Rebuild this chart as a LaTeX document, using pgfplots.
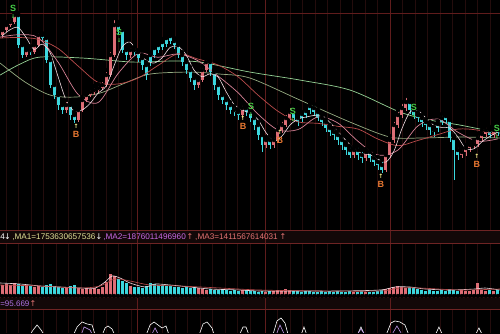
\documentclass[border=0pt]{standalone}
\usepackage{pgfplots}
\pgfplotsset{compat=1.18}
\usepackage{pgfplotstable}
\usepackage{fontspec}
\setmainfont{Liberation Sans}
\newfontfamily\arrowfont{DejaVu Sans}
\definecolor{upc}{RGB}{222,110,118}
\definecolor{dnc}{RGB}{60,215,222}
\definecolor{gridc}{RGB}{95,28,28}
\definecolor{faintc}{RGB}{36,12,12}
\definecolor{bandl}{RGB}{110,36,36}
\definecolor{bandf}{RGB}{18,8,8}
\definecolor{maw}{RGB}{240,220,226}
\definecolor{map}{RGB}{215,130,150}
\definecolor{mar}{RGB}{185,75,75}
\definecolor{lga}{RGB}{150,210,150}
\definecolor{lgb}{RGB}{150,172,130}
\definecolor{txty}{RGB}{225,225,150}
\definecolor{txtm}{RGB}{200,105,230}
\definecolor{txts}{RGB}{228,115,115}
\definecolor{txtp}{RGB}{175,115,230}
\definecolor{sgreen}{RGB}{70,205,70}
\definecolor{borange}{RGB}{232,120,50}
\definecolor{byellow}{RGB}{245,240,140}
\definecolor{lav}{RGB}{190,150,230}

\pgfplotstableread{
x o c h l v
2 35 30 27 38 11
6 30 25 22 32 12
10 25 22 18 27 11
14 22 15 12 24 13
18 15 45 13 48 12
22 45 55 42 58 10
26 55 50 47 57 11
30 50 52 46 55 10
34 52 45 42 54 9
38 45 35 31 47 10
42 35 38 33 42 9
46 38 60 36 63 11
50 60 85 58 88 12
54 85 95 82 99 10
58 95 105 92 110 9
62 105 110 102 114 8
66 110 105 100 113 9
70 105 115 103 120 10
74 115 120 112 123 11
78 120 110 107 122 8
82 110 100 97 112 7
86 100 95 92 102 8
90 95 92 88 97 7
94 92 90 86 95 8
98 90 88 84 93 7
102 88 85 80 90 9
106 85 75 70 87 14
110 75 55 50 77 22
114 55 25 18 57 20
118 25 30 22 34 17
122 30 50 28 53 15
126 50 55 47 60 13
130 55 50 46 58 10
134 50 52 47 56 9
138 52 58 50 62 9
142 58 65 55 70 8
146 65 75 62 80 10
150 55 62 52 66 13
154 48 55 45 58 12
158 45 50 42 53 11
162 42 47 39 50 11
166 38 44 35 47 10
170 36 41 34 44 10
174 41 45 38 49 9
178 45 55 43 58 9
182 55 62 52 66 8
186 62 70 60 74 9
190 70 78 67 82 8
194 78 85 75 90 9
198 85 80 77 88 8
202 80 70 66 82 7
206 70 62 58 72 6
210 62 72 60 76 7
214 72 85 70 90 6
218 85 95 82 100 6
222 95 100 92 104 7
226 100 105 97 110 6
230 105 110 102 114 5
234 110 112 106 116 6
238 112 115 109 120 5
242 115 108 104 118 6
246 108 112 105 116 6
250 112 118 110 122 5
254 118 125 115 130 5
258 125 135 122 140 4
262 135 145 132 152 5
266 145 140 137 148 4
270 140 145 136 149 5
274 145 140 136 148 5
278 140 130 127 143 6
282 130 125 120 133 6
286 125 118 113 127 7
290 118 112 106 120 6
294 112 118 110 122 5
298 118 122 115 126 5
302 114 118 112 122 4
306 111 115 108 118 5
310 106 110 103 114 5
314 108 112 104 116 4
318 112 118 109 121 4
322 118 122 115 126 5
326 122 128 119 132 4
330 128 132 125 136 5
334 132 135 128 140 4
338 135 140 131 145 5
342 140 145 136 150 4
346 145 150 142 155 4
350 150 155 146 158 5
354 155 150 147 158 4
358 150 155 146 160 4
362 155 158 150 163 5
366 158 152 149 161 4
370 152 158 149 162 4
374 158 162 154 166 4
378 162 165 157 170 5
382 165 170 160 173 6
386 170 155 152 172 7
390 155 140 136 158 8
394 140 125 120 143 9
398 125 115 110 128 10
402 115 108 102 118 9
406 108 102 96 111 8
410 102 110 100 114 9
414 110 115 107 119 8
418 115 118 112 122 7
422 118 122 115 127 6
426 122 125 119 130 5
430 125 130 122 135 6
434 130 132 127 137 5
438 124 128 121 132 5
442 118 122 114 125 6
446 116 120 113 124 5
450 120 138 118 142 7
454 138 150 136 180 6
458 150 155 146 160 5
462 155 152 148 158 6
466 152 148 145 156 5
470 148 145 142 152 5
474 145 144 140 149 6
478 144 138 134 147 13
482 138 134 130 141 6
486 134 130 126 137 5
490 130 135 127 138 6
494 135 130 126 138 5
498 130 132 127 136 6
}\candles

\begin{document}
\begin{tikzpicture}
\begin{axis}[
  scale only axis, width=500bp, height=333bp,
  xmin=0, xmax=500, ymin=0, ymax=333, y dir=reverse,
  xtick=\empty, ytick=\empty,
  axis line style={draw=black, line width=0.2pt},
  axis background/.style={fill=black},
]
% faint vertical texture
\addplot[ycomb, draw=faintc, line width=0.4bp, mark=none, forget plot] coordinates {
(6,333)(18,333)(31,333)(43,333)(56,333)(68,333)(81,333)(93,333)(106,333)(118,333)(131,333)(150,333)(162,333)(175,333)(187,333)(200,333)(212,333)(225,333)(237,333)(250,333)(277,333)(290,333)(302,333)(315,333)(327,333)(340,333)(352,333)(365,333)(377,333)(402,333)(415,333)(427,333)(440,333)(452,333)(465,333)(477,333)(490,333)};
% band backgrounds
\fill[bandf] (axis cs:0,230.5) rectangle (axis cs:500,243.5);
\fill[bandf] (axis cs:0,297.5) rectangle (axis cs:500,309.5);
% main grid lines
\addplot[draw=gridc, line width=0.6bp, forget plot] coordinates {(137,0)(137,333)};
\addplot[draw=gridc, line width=0.6bp, forget plot] coordinates {(265,0)(265,333)};
\addplot[draw=gridc, line width=0.6bp, forget plot] coordinates {(390,0)(390,333)};
\addplot[draw=gridc, line width=0.6bp, forget plot] coordinates {(0,13)(500,13)};
\addplot[draw=bandl, line width=0.7bp, forget plot] coordinates {(0,230.5)(500,230.5)};
\addplot[draw=bandl, line width=0.7bp, forget plot] coordinates {(0,243.5)(500,243.5)};
\addplot[draw=bandl, line width=0.7bp, forget plot] coordinates {(0,297.5)(500,297.5)};
\addplot[draw=bandl, line width=0.7bp, forget plot] coordinates {(0,309.5)(500,309.5)};

% long moving averages
\addplot[lga, line width=0.7bp, smooth, forget plot] coordinates {(0,75)(20,64)(40,57)(83,58)(133,62)(170,61)(200,62)(250,72)(300,80)(350,90)(400,112)(430,120)(460,125)(500,133)};
\addplot[lgb, line width=0.7bp, smooth, forget plot] coordinates {(0,63)(25,82)(50,95)(75,97)(100,93)(125,83)(150,74)(190,72)(220,74)(250,78)(300,100)(350,122)(390,137)(420,138)(460,137)(500,138)};

% candles: wicks and bodies (up = red, down = cyan; y is screen row)
\addplot[only marks, mark=none, forget plot, restrict expr to domain={\thisrow{o}-\thisrow{c}}{0.5:1000},
  error bars/.cd, y dir=both, y explicit, error mark=none, error bar style={upc, line width=0.6bp}]
  table[x=x, y expr=\thisrow{h}, y error plus expr=\thisrow{l}-\thisrow{h}, y error minus expr=0]{\candles};
\addplot[only marks, mark=none, forget plot, restrict expr to domain={\thisrow{o}-\thisrow{c}}{0.5:1000},
  error bars/.cd, y dir=both, y explicit, error mark=none, error bar style={upc, line width=3bp}]
  table[x=x, y expr={min(\thisrow{o},\thisrow{c})}, y error plus expr={max(abs(\thisrow{o}-\thisrow{c}),1)}, y error minus expr=0]{\candles};
\addplot[only marks, mark=none, forget plot, restrict expr to domain={\thisrow{o}-\thisrow{c}}{-1000:0},
  error bars/.cd, y dir=both, y explicit, error mark=none, error bar style={dnc, line width=0.6bp}]
  table[x=x, y expr=\thisrow{h}, y error plus expr=\thisrow{l}-\thisrow{h}, y error minus expr=0]{\candles};
\addplot[only marks, mark=none, forget plot, restrict expr to domain={\thisrow{o}-\thisrow{c}}{-1000:0},
  error bars/.cd, y dir=both, y explicit, error mark=none, error bar style={dnc, line width=3bp}]
  table[x=x, y expr={min(\thisrow{o},\thisrow{c})}, y error plus expr={max(abs(\thisrow{o}-\thisrow{c}),1)}, y error minus expr=0]{\candles};

% short moving averages
\addplot[mar, line width=0.7bp, smooth, forget plot] coordinates {(0,38)(18,37.4)(38,39.2)(58,48.4)(78,65.9)(98,82.3)(118,83.9)(138,78)(158,65.4)(178,53.7)(198,59)(218,64.9)(238,76.7)(258,95)(278,111.2)(298,121.8)(318,123.3)(338,126.3)(358,129)(378,139)(398,145.6)(418,140.4)(438,134.5)(458,129)(478,130.1)(498,135.5)};
\addplot[map, line width=0.7bp, smooth, forget plot] coordinates {(0,37)(18,34.7)(38,37.4)(58,62)(78,94.3)(98,102.5)(118,73.5)(138,53.5)(158,57.2)(178,53.9)(198,60.7)(218,75.9)(238,92.6)(258,114)(278,129.8)(298,129.5)(318,116.8)(338,123)(358,141.2)(378,155)(398,150)(418,125.8)(438,119)(458,132.2)(478,141.2)(498,138.8)};
\addplot[maw, line width=0.6bp, smooth, forget plot] coordinates {(2,35.8)(10,29.6)(18,27.4)(26,37.4)(34,49.4)(42,44)(50,52.6)(58,76.6)(66,100)(74,111)(82,110)(90,103.4)(98,93)(106,86)(114,65.6)(122,47)(130,42)(138,53)(146,60)(154,63)(162,57.8)(170,47.4)(178,46.4)(186,54.6)(194,70)(202,76.6)(210,73.8)(218,76.8)(226,91.4)(234,104.4)(242,110)(250,113)(258,119.6)(266,132.6)(274,141)(282,136)(290,125)(298,119)(306,117)(314,115.4)(322,115.4)(330,122.4)(338,131.4)(346,140.4)(354,148)(362,153.6)(370,154.6)(378,159)(386,162)(394,151)(402,128.6)(410,112)(418,110.6)(426,118)(434,125.4)(442,127.4)(450,128)(458,137)(466,148.6)(474,148.8)(482,141.8)(490,136.2)(498,132.2)};

% S / B signals
\addplot[only marks, mark=none, forget plot, nodes near coords={S},
  every node near coord/.append style={anchor=center, text=sgreen, font=\bfseries\fontsize{9bp}{10bp}\selectfont, inner sep=0pt}]
  coordinates {(13,8)(119,32)(251,106)(293,111)(414,107)(497,128)};
\addplot[only marks, mark=none, forget plot, nodes near coords={\arrowfont\textbf{↓}},
  every node near coord/.append style={anchor=center, text=sgreen, font=\fontsize{5.5bp}{6bp}\selectfont, inner sep=0pt}]
  coordinates {(13,16)(119,40)(251,114)(293,119)(414,115)(497,136)};
\addplot[only marks, mark=none, forget plot, nodes near coords={B},
  every node near coord/.append style={anchor=center, text=borange, font=\bfseries\fontsize{9bp}{10bp}\selectfont, inner sep=0pt}]
  coordinates {(76,134)(243,126)(280,140)(381,184)(477,164)};
\addplot[only marks, mark=none, forget plot, nodes near coords={\arrowfont\textbf{↑}},
  every node near coord/.append style={anchor=center, text=byellow, font=\fontsize{6bp}{6bp}\selectfont, inner sep=0pt}]
  coordinates {(76,126)(243,118)(280,132)(381,176)(477,156)};

% volume bars
\addplot[only marks, mark=none, forget plot, restrict expr to domain={\thisrow{o}-\thisrow{c}}{0.5:1000},
  error bars/.cd, y dir=both, y explicit, error mark=none, error bar style={upc, line width=3bp}]
  table[x=x, y expr=296, y error minus expr=\thisrow{v}, y error plus expr=0]{\candles};
\addplot[only marks, mark=none, forget plot, restrict expr to domain={\thisrow{o}-\thisrow{c}}{-1000:0},
  error bars/.cd, y dir=both, y explicit, error mark=none, error bar style={dnc, line width=3bp}]
  table[x=x, y expr=296, y error minus expr=\thisrow{v}, y error plus expr=0]{\candles};
% volume averages
\addplot[maw, line width=0.6bp, smooth, forget plot] coordinates {(0,283)(20,284)(40,286)(60,287)(80,288)(95,288)(105,282)(112,276)(120,278)(130,283)(145,287)(155,284)(170,285)(190,287)(210,289)(240,290)(260,291)(300,291)(340,291)(380,290)(395,287)(410,287)(425,289)(450,290)(475,289)(485,288)(500,290)};
\addplot[mar, line width=0.6bp, smooth, forget plot] coordinates {(0,285)(40,286)(80,288)(100,286)(115,279)(130,281)(150,285)(180,286)(220,288)(260,290)(320,291)(380,291)(400,288)(420,288)(460,290)(500,289)};

% lower indicator
\addplot[white, line width=0.6bp, forget plot] coordinates {(0,338)(28,338)(33,330)(37,325)(41,330)(46,338)(72,338)(77,327)(82,322)(87,324)(92,325)(96,338)(101,338)(105,328)(108,326)(112,329)(116,338)(145,338)(150,325)(154,322)(158,325)(162,328)(166,326)(170,338)(198,338)(203,324)(207,322)(212,328)(215,338)(238,338)(243,327)(246,327)(250,338)(272,338)(277,321)(281,318)(285,323)(289,338)(300,338)(304,327)(308,338)(356,338)(361,327)(366,338)(385,338)(391,323)(395,321)(400,322)(405,325)(410,338)(434,338)(439,327)(444,338)(474,338)(479,328)(484,338)(500,338)};
\addplot[lav, line width=0.6bp, forget plot] coordinates {(0,338)(80,338)(84,327)(90,330)(94,338)(150,338)(155,328)(160,338)(275,338)(280,325)(286,338)(355,338)(361,329)(367,338)(390,338)(397,326)(404,338)(500,338)};

% band texts
\node[anchor=west, inner sep=0pt, text=white, font=\fontsize{8.2bp}{10bp}\selectfont] at (axis cs:0,237) {4};
\node[anchor=center, inner sep=0pt, text=white, font=\arrowfont\fontsize{8bp}{10bp}\selectfont] at (axis cs:7.5,237) {↓};
\node[anchor=west, inner sep=0pt, text=txty, font=\fontsize{8.2bp}{10bp}\selectfont] at (axis cs:12,237) {,MA1=1753630657536};
\node[anchor=center, inner sep=0pt, text=white, font=\arrowfont\fontsize{8bp}{10bp}\selectfont] at (axis cs:99,237) {↓};
\node[anchor=west, inner sep=0pt, text=txtm, font=\fontsize{8.2bp}{10bp}\selectfont] at (axis cs:103,237) {,MA2=1876011496960};
\node[anchor=center, inner sep=0pt, text=txts, font=\arrowfont\fontsize{8bp}{10bp}\selectfont] at (axis cs:190,237) {↑};
\node[anchor=west, inner sep=0pt, text=txts, font=\fontsize{8.2bp}{10bp}\selectfont] at (axis cs:195,237) {,MA3=1411567614031};
\node[anchor=center, inner sep=0pt, text=txts, font=\arrowfont\fontsize{8bp}{10bp}\selectfont] at (axis cs:283,237) {↑};
\node[anchor=west, inner sep=0pt, text=txtp, font=\fontsize{8bp}{10bp}\selectfont] at (axis cs:0,303.5) {=95.669};
\node[anchor=center, inner sep=0pt, text=txts, font=\arrowfont\fontsize{8bp}{10bp}\selectfont] at (axis cs:33,303.5) {↑};
\end{axis}
\end{tikzpicture}
\end{document}
